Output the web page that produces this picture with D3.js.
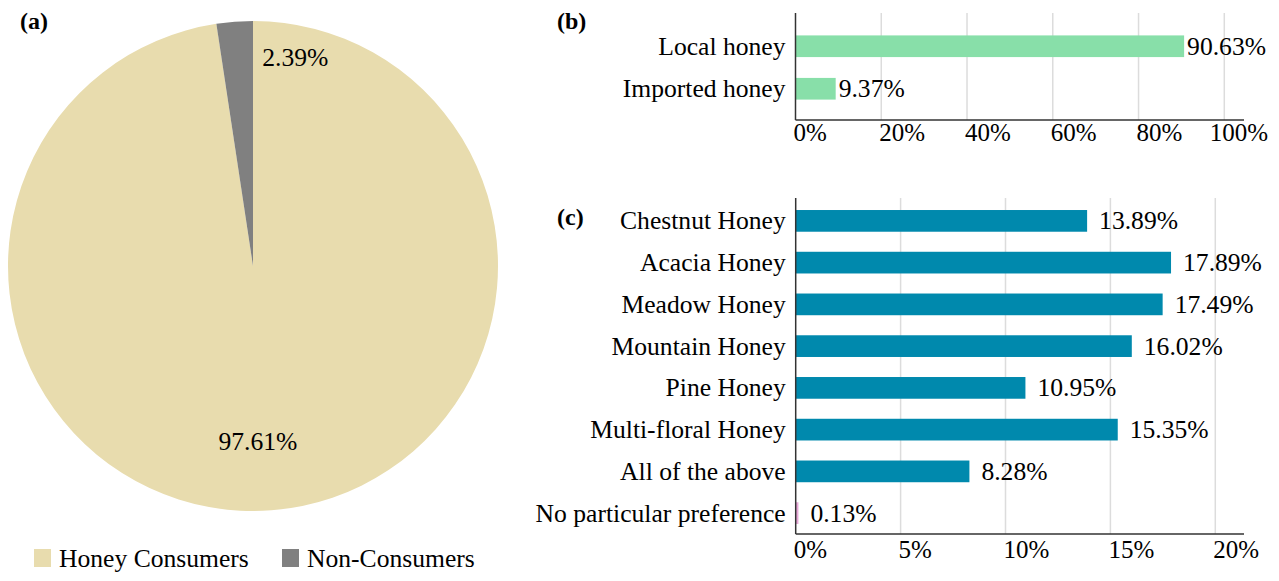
<!DOCTYPE html>
<html>
<head>
<meta charset="utf-8">
<script src="https://cdn.jsdelivr.net/npm/d3@7"></script>
<style>
  body { margin: 0; background: #fff; }
</style>
</head>
<body>
<div id="chart"></div>
<script>
// panel (a) data
const pieLabels = ["Honey Consumers", "Non-Consumers"];
const pieValues = [97.61, 2.39];
const pieColors = ["#e8dcae", "#808080"];

// panel (b) data
const originLabels = ["Local honey", "Imported honey"];
const originValues = [90.63, 9.37];
const originTicks = [0, 20, 40, 60, 80, 100];

// panel (c) data
const typeLabels = ["Chestnut Honey", "Acacia Honey", "Meadow Honey", "Mountain Honey",
  "Pine Honey", "Multi-floral Honey", "All of the above", "No particular preference"];
const typeValues = [13.89, 17.89, 17.49, 16.02, 10.95, 15.35, 8.28, 0.13];
const typeTicks = [0, 5, 10, 15, 20];

const W = 1279, H = 581;
const fs = 25.6;
const FONT = "'Liberation Serif', 'Times New Roman', serif";

const svg = d3.select("#chart").append("svg")
    .attr("width", W)
    .attr("height", H);

// ---------- (a) pie ----------
const cx = 253, cy = 266, R = 245;
const pie = d3.pie().sort(null).value(d => d);
const arcs = pie(pieValues);
const arc = d3.arc().innerRadius(0).outerRadius(R);
const gPie = svg.append("g").attr("transform", `translate(${cx},${cy})`);

gPie.selectAll("path")
    .data(arcs)
    .join("path")
    .attr("d", arc)
    .attr("fill", (d, i) => pieColors[i]);

const labelArc = d3.arc().innerRadius(R * 0.7).outerRadius(R * 0.7);
const smallArc = d3.arc().innerRadius(R * 0.86).outerRadius(R * 0.86);
gPie.selectAll("text.val")
    .data(arcs)
    .join("text")
    .attr("class", "val")
    .style("font-family", FONT)
    .attr("font-size", fs)
    .attr("dominant-baseline", "central")
    .attr("text-anchor", (d, i) => i == 0 ? "middle" : "start")
    .attr("transform", (d, i) => {
        const c = i == 0 ? labelArc.centroid(d) : smallArc.centroid(d);
        return i == 0 ? `translate(${c[0] - 8},${c[1] + 4})` : `translate(${c[0] + 25},${c[1] + 2})`;
    })
    .text(d => d.value.toFixed(2) + "%");

// legend
const legend = svg.append("g").attr("transform", "translate(34,558)");
const legX = [0, 248];
pieLabels.forEach((name, i) => {
    legend.append("rect")
        .attr("x", legX[i]).attr("y", -9)
        .attr("width", 17).attr("height", 18)
        .attr("fill", pieColors[i]);
    legend.append("text")
        .attr("x", legX[i] + 25).attr("y", 0)
        .style("font-family", FONT)
        .attr("dominant-baseline", "central")
        .attr("font-size", fs)
        .text(name);
});

// ---------- bar panel helper ----------
function barPanel(opts) {
    const g = svg.append("g");
    const x = d3.scaleLinear().domain(opts.domain).range([opts.x0, opts.x1]);
    const y = d3.scaleBand().domain(opts.labels).range([opts.top, opts.bottom])
        .paddingInner(opts.pi).paddingOuter(opts.po);

    // grid
    g.selectAll("line.grid")
        .data(opts.ticks.slice(1))
        .join("line")
        .attr("x1", d => x(d)).attr("x2", d => x(d))
        .attr("y1", opts.top - 2).attr("y2", opts.bottom)
        .attr("stroke", "#dcdcdc")
        .attr("stroke-width", 1.5);

    // bars
    g.selectAll("rect")
        .data(opts.values)
        .join("rect")
        .attr("x", x(0))
        .attr("y", (d, i) => y(opts.labels[i]))
        .attr("width", d => x(d) - x(0))
        .attr("height", y.bandwidth())
        .attr("fill", (d, i) => opts.colors ? opts.colors[i] : opts.color);

    // value labels
    g.selectAll("text.val")
        .data(opts.values)
        .join("text")
        .attr("class", "val")
        .style("font-family", FONT)
        .attr("x", d => x(d) + opts.gap)
        .attr("y", (d, i) => y(opts.labels[i]) + y.bandwidth() / 2)
        .attr("dominant-baseline", "central")
        .attr("font-size", fs)
        .text(d => d.toFixed(2) + "%");

    // category labels
    g.selectAll("text.cat")
        .data(opts.labels)
        .join("text")
        .attr("class", "cat")
        .style("font-family", FONT)
        .attr("x", x(0) - 10)
        .attr("y", d => y(d) + y.bandwidth() / 2)
        .attr("text-anchor", "end")
        .attr("dominant-baseline", "central")
        .attr("font-size", fs)
        .text(d => d);

    // axes lines
    g.append("line")
        .attr("x1", x(0)).attr("x2", x(0))
        .attr("y1", opts.top - 2).attr("y2", opts.bottom)
        .attr("stroke", "#333").attr("stroke-width", 1.5);
    g.append("line")
        .attr("x1", x(0)).attr("x2", opts.axisEnd)
        .attr("y1", opts.bottom).attr("y2", opts.bottom)
        .attr("stroke", "#333").attr("stroke-width", 1.5);

    // tick labels
    g.selectAll("text.tick")
        .data(opts.ticks)
        .join("text")
        .attr("class", "tick")
        .style("font-family", FONT)
        .attr("x", d => x(d) - 2)
        .attr("y", opts.bottom + opts.tickDy)
        .attr("font-size", 25)
        .text(d => d + "%")
        .each(function() {
            const t = d3.select(this);
            const w = this.getComputedTextLength();
            const xx = +t.attr("x");
            if (xx + w > 1268) t.attr("x", 1268 - w);
        });

    // panel tag
    g.append("text")
        .attr("x", opts.tagX).attr("y", opts.tagY)
        .style("font-family", FONT)
        .attr("font-size", 24)
        .attr("font-weight", "bold")
        .text(opts.tag);
}

barPanel({
    labels: originLabels, values: originValues, ticks: originTicks,
    domain: [0, 100], x0: 795.5, x1: 1224.3, axisEnd: 1244,
    top: 15, bottom: 120, pi: 0.49, po: 0.48, tickDy: 21,
    color: "#88dfa9", gap: 3, tag: "(b)", tagX: 557, tagY: 29
});

barPanel({
    labels: typeLabels, values: typeValues, ticks: typeTicks,
    domain: [0, 20], x0: 795.7, x1: 1215.3, axisEnd: 1244,
    top: 200, bottom: 534, pi: 0.48, po: 0.24, tickDy: 24,
    colors: typeValues.map((d, i) => i == typeValues.length - 1 ? "#e8a8d8" : "#0089ad"),
    gap: 12, tag: "(c)", tagX: 557, tagY: 225
});

// panel tag (a)
svg.append("text")
    .attr("x", 20).attr("y", 29)
    .style("font-family", FONT)
    .attr("font-size", 24)
    .attr("font-weight", "bold")
    .text("(a)");
</script>
</body>
</html>
